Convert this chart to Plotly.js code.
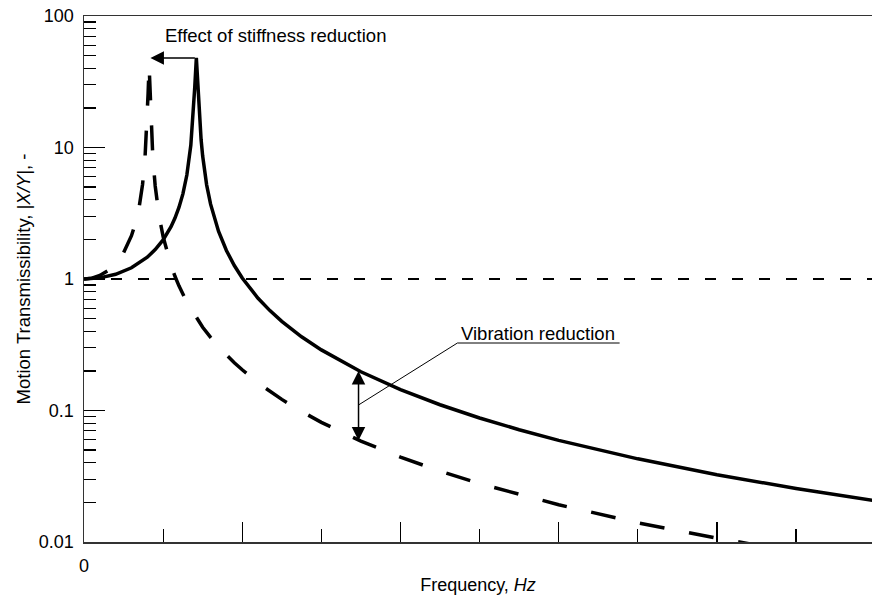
<!DOCTYPE html>
<html><head><meta charset="utf-8">
<script src="https://cdn.plot.ly/plotly-3.0.1.min.js"></script>
<style>html,body{margin:0;padding:0;background:#fff}#chart{width:872px;height:603px}</style>
</head><body><div id="chart"></div>
<script>
// Original system (solid)
const solidFreq=[0,0.2,0.4,0.6,0.8,0.9,1.0,1.05,1.1,1.15,1.2,1.25,1.3,1.35,1.38,1.40,1.42,1.44,1.46,1.48,1.5,1.55,1.6,1.7,1.8,1.9,2.0,2.1,2.2,2.35,2.5,2.75,3.0,3.5,4.0,4.5,5,5.5,6,7,8,9,10];
const solidT=[1,1.020,1.086,1.217,1.465,1.672,1.984,2.207,2.50,2.91,3.50,4.44,6.18,10.4,18.0,28.8,48,28.5,16.5,11.5,8.6,5.2,3.71,2.31,1.648,1.266,1.017,0.842,0.714,0.575,0.476,0.3636,0.289,0.197,0.1442,0.1106,0.0877,0.0714,0.0593,0.0429,0.0325,0.0255,0.0206];
// Reduced stiffness system (dashed)
const dashFreq=[0,0.1,0.2,0.3,0.4,0.5,0.6,0.65,0.7,0.74,0.77,0.79,0.80,0.81,0.823,0.835,0.85,0.87,0.9,0.95,1.0,1.05,1.1,1.15,1.2,1.3,1.4,1.5,1.6,1.75,1.9,2.0,2.25,2.5,2.75,3.0,3.5,4,4.5,5,6,7,8,9,10];
const dashT=[1,1.015,1.063,1.153,1.309,1.586,2.136,2.66,3.62,5.23,8.05,12.8,18.3,25.6,42,26,14.6,8.4,5.1,3.0,2.10,1.592,1.27,1.049,0.887,0.668,0.528,0.430,0.3596,0.284,0.2308,0.204,0.1544,0.1215,0.0983,0.0813,0.0585,0.0442,0.0346,0.0278,0.0192,0.0140,0.0107,0.0084,0.0068];
// Reference line |X/Y| = 1
const refFreq=[0,10];
const refT=[1,1];
// Axis ticks
const yTickVals=[0.01,0.1,1,10,100];
const yTickText=['0.01','0.1','1','10','100'];
const xTickVals=[0,2,4,6,8];
const xTickText=['0','','','',''];

const FONT='Liberation Sans, Arial, Helvetica, sans-serif';
const lg=v=>Math.log10(v);

const traces=[
  {x:refFreq,y:refT,mode:'lines',line:{color:'#000',width:1.8,dash:'11px,16px'},hoverinfo:'skip'},
  {x:dashFreq,y:dashT,mode:'lines',line:{color:'#000',width:3.5,dash:'25px,25px'},hoverinfo:'skip'},
  {x:solidFreq,y:solidT,mode:'lines',line:{color:'#000',width:3.5},hoverinfo:'skip'}
];

const layout={
  width:872,height:603,
  margin:{l:84,r:0,t:16,b:61},
  paper_bgcolor:'#fff',plot_bgcolor:'#fff',
  showlegend:false,
  font:{family:FONT,size:18,color:'#000'},
  xaxis:{
    range:[0,9.96],showgrid:false,zeroline:false,
    showline:true,linecolor:'#333',linewidth:1.5,mirror:true,
    tickmode:'array',tickvals:xTickVals,ticktext:xTickText,
    ticks:'inside',ticklen:20,tickwidth:1.2,tickcolor:'#000',
    ticklabelstandoff:7,
    minor:{tickmode:'linear',tick0:0,dtick:1,ticks:'inside',ticklen:13,tickwidth:1.2,tickcolor:'#000',showgrid:false},
    tickfont:{family:FONT,size:18,color:'#000'},
    title:{text:'Frequency, <i>Hz</i>',font:{family:FONT,size:18,color:'#000'},standoff:3}
  },
  yaxis:{
    type:'log',range:[-2,2],showgrid:false,zeroline:false,
    showline:true,linecolor:'#333',linewidth:1.5,
    tickmode:'array',tickvals:yTickVals,ticktext:yTickText,
    ticks:'inside',ticklen:21,tickwidth:1.2,tickcolor:'#000',
    ticklabelstandoff:5,
    minor:{dtick:'D1',ticks:'inside',ticklen:12,tickwidth:1.2,tickcolor:'#000',showgrid:false},
    tickfont:{family:FONT,size:18,color:'#000'},
    title:{text:'Motion Transmissibility, |<i>X/Y</i>|, -',font:{family:FONT,size:18.5,color:'#000'},standoff:3}
  },
  annotations:[
    {x:2.42,y:1.848,xref:'x',yref:'y',text:'Effect of stiffness reduction',showarrow:false,xanchor:'center',yanchor:'middle',font:{family:FONT,size:18.5,color:'#000'}},
    {x:0.84,y:lg(48),xref:'x',yref:'y',ax:1.42,ay:lg(48),axref:'x',ayref:'y',text:'',showarrow:true,arrowhead:2,arrowsize:1.8,arrowwidth:1.5,arrowcolor:'#000'},
    {x:5.733,y:-0.418,xref:'x',yref:'y',text:'Vibration reduction',showarrow:false,xanchor:'center',yanchor:'middle',font:{family:FONT,size:18.5,color:'#000'}},
    {x:3.47,y:lg(0.1996),xref:'x',yref:'y',ax:3.47,ay:lg(0.0576),axref:'x',ayref:'y',text:'',showarrow:true,arrowhead:2,startarrowhead:2,arrowside:'end+start',arrowsize:1.8,startarrowsize:1.8,arrowwidth:1.5,arrowcolor:'#000'}
  ],
  shapes:[
    {type:'line',xref:'x',yref:'paper',x0:4.72,x1:6.77,y0:0.3783,y1:0.3783,line:{color:'#000',width:1}},
    {type:'line',xref:'x',yref:'paper',x0:3.47,y0:0.2605,x1:4.72,y1:0.3783,line:{color:'#000',width:1}}
  ]
};

Plotly.newPlot('chart',traces,layout,{displayModeBar:false,staticPlot:true});
</script></body></html>
